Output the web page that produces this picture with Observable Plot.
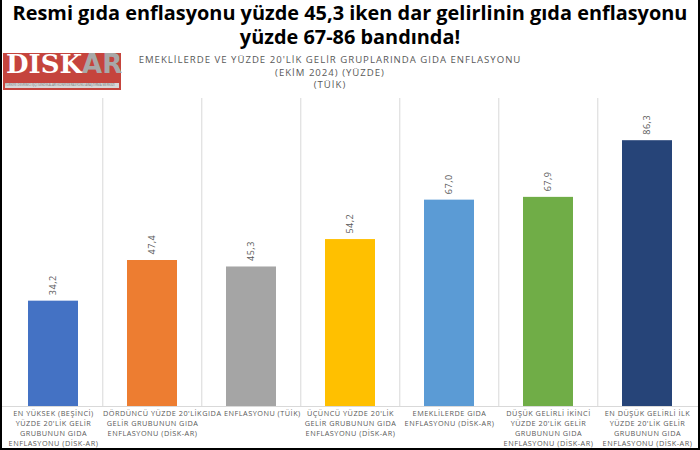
<!DOCTYPE html>
<html>
<head>
<meta charset="utf-8">
<script src="https://cdn.jsdelivr.net/npm/d3@7"></script>
<script src="https://cdn.jsdelivr.net/npm/@observablehq/plot@0.6"></script>
<style>
  html, body { margin: 0; padding: 0; background: #fff; }
  #frame { position: relative; width: 696px; height: 448px; border-left: 2px solid #000; border-right: 2px solid #000; border-bottom: 2px solid #000; overflow: hidden; font-family: "Open Sans", sans-serif; }
  #title { position: absolute; top: 0; left: 0; width: 696px; text-align: center; font-weight: 700; font-size: 19.9px; line-height: 23.5px; color: #000; padding-top: 1px; }
  #logo { position: absolute; left: 1px; top: 53px; width: 118px; height: 37px; background: #c5443d; }
  #logo .name { position: absolute; left: 3px; top: -4px; font-family: "DejaVu Serif", serif; font-weight: 700; font-size: 26px; letter-spacing: 0px; color: #fff; }
  #logo .name span { color: #a8a8a8; font-family: "DejaVu Sans", sans-serif; }
  #logo .tag { position: absolute; left: 2px; right: 2px; top: 30px; height: 5px; background: #d8d8d8; font-size: 3px; line-height: 5px; color: #777; white-space: nowrap; overflow: hidden; }
  #subtitle { position: absolute; top: 54px; left: 113px; width: 430px; text-align: center; font-size: 9.6px; line-height: 12.5px; color: #595959; letter-spacing: 1px; }
  #chart { position: absolute; top: 95px; left: 0; }
  #chart text { letter-spacing: 0.5px; }
</style>
</head>
<body>
<div id="frame">
  <div id="title">Resmi gıda enflasyonu yüzde 45,3 iken dar gelirlinin gıda enflasyonu<br>yüzde 67-86 bandında!</div>
  <div id="logo"><div class="name">DİSK<span>AR</span></div><div class="tag">TÜRKİYE DEVRİMCİ İŞÇİ SENDİKALARI KONFEDERASYONU ARAŞTIRMA MERKEZİ</div></div>
  <div id="subtitle">EMEKLİLERDE VE YÜZDE 20'LİK GELİR GRUPLARINDA GIDA ENFLASYONU<br>(EKİM 2024) (YÜZDE)<br>(TÜİK)</div>
  <div id="chart"></div>
</div>
<script>
const categories = [
  "EN YÜKSEK (BEŞİNCİ)\nYÜZDE 20'LİK GELİR\nGRUBUNUN GIDA\nENFLASYONU (DİSK-AR)",
  "DÖRDÜNCÜ YÜZDE 20'LİK\nGELİR GRUBUNUN GIDA\nENFLASYONU (DİSK-AR)",
  "GIDA ENFLASYONU (TÜİK)",
  "ÜÇÜNCÜ YÜZDE 20'LİK\nGELİR GRUBUNUN GIDA\nENFLASYONU (DİSK-AR)",
  "EMEKLİLERDE GIDA\nENFLASYONU (DİSK-AR)",
  "DÜŞÜK GELİRLİ İKİNCİ\nYÜZDE 20'LİK GELİR\nGRUBUNUN GIDA\nENFLASYONU (DİSK-AR)",
  "EN DÜŞÜK GELİRLİ İLK\nYÜZDE 20'LİK GELİR\nGRUBUNUN GIDA\nENFLASYONU (DİSK-AR)"
];
const values = [34.2, 47.4, 45.3, 54.2, 67.0, 67.9, 86.3];
const colors = ["#4472C4", "#ED7D31", "#A5A5A5", "#FFC000", "#5B9BD5", "#70AD47", "#264478"];

const data = categories.map((c, i) => ({cat: c, value: values[i], color: colors[i]}));
const fmt = v => v.toFixed(1).replace(".", ",");

const W = 696, H = 353, mL = 0, mR = 0;
const step = (W - mL - mR) / categories.length;

const chart = Plot.plot({
  width: W,
  height: H,
  marginLeft: mL,
  marginRight: mR,
  marginTop: 3,
  marginBottom: 42,
  style: {fontFamily: "Open Sans, sans-serif", color: "#595959", background: "#fff"},
  x: {domain: categories, paddingInner: 0.5, paddingOuter: 0.25, label: null},
  y: {domain: [0, 100], axis: null},
  marks: [
    Plot.ruleX(categories.slice(1), {x: d => d, dx: -step / 2, stroke: "#d9d9d9", strokeWidth: 1}),
    Plot.ruleY([0], {stroke: "#d9d9d9"}),
    Plot.barY(data, {x: "cat", y: "value", fill: "color"}),
    Plot.text(data, {x: "cat", y: "value", text: d => fmt(d.value), rotate: -90, textAnchor: "start", lineAnchor: "middle", dy: -6, fill: "#595959", fontSize: 9}),
    Plot.axisX({tickSize: 0, tickPadding: 2, fontSize: 7.3, fill: "#595959", lineHeight: 1.37, label: null})
  ]
});
document.getElementById("chart").appendChild(chart);
</script>
</body>
</html>
